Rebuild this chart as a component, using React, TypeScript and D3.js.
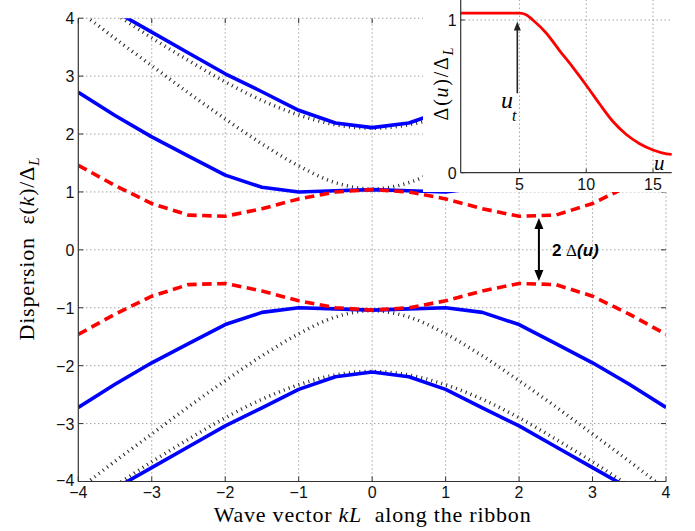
import React from 'react';
import * as d3 from 'd3';

// wave vector samples (kL)
const kValues = [-4, -3.5, -3, -2.5, -2, -1.5, -1, -0.5, 0, 0.5, 1, 1.5, 2, 2.5, 3, 3.5, 4];

// blue bands (solid)
const outerBandUpper = [4.48, 4.12, 3.76, 3.40, 3.04, 2.73, 2.41, 2.19, 2.11, 2.19, 2.41, 2.73, 3.04, 3.40, 3.76, 4.12, 4.48];
const outerBandLower = [-4.48, -4.12, -3.76, -3.40, -3.04, -2.73, -2.41, -2.19, -2.11, -2.19, -2.41, -2.73, -3.04, -3.40, -3.76, -4.12, -4.48];
const innerBandUpper = [2.72, 2.32, 1.95, 1.62, 1.29, 1.08, 1.00, 1.02, 1.04, 1.02, 1.00, 1.08, 1.29, 1.62, 1.95, 2.32, 2.72];
const innerBandLower = [-2.72, -2.32, -1.95, -1.62, -1.29, -1.08, -1.00, -1.02, -1.04, -1.02, -1.00, -1.08, -1.29, -1.62, -1.95, -2.32, -2.72];

// red gapped bands (dashed)
const gapBandUpper = [1.46, 1.11, 0.80, 0.60, 0.58, 0.71, 0.88, 1.00, 1.04, 1.00, 0.88, 0.71, 0.58, 0.60, 0.80, 1.11, 1.46];
const gapBandLower = [-1.46, -1.11, -0.80, -0.60, -0.58, -0.71, -0.88, -1.00, -1.04, -1.00, -0.88, -0.71, -0.58, -0.60, -0.80, -1.11, -1.46];

// black dotted free bands
const freeOuterUpper = [4.52, 4.08, 3.66, 3.27, 2.90, 2.58, 2.33, 2.16, 2.10, 2.16, 2.33, 2.58, 2.90, 3.27, 3.66, 4.08, 4.52];
const freeOuterLower = [-4.52, -4.08, -3.66, -3.27, -2.90, -2.58, -2.33, -2.16, -2.10, -2.16, -2.33, -2.58, -2.90, -3.27, -3.66, -4.08, -4.52];
const freeInnerUpper = [4.14, 3.65, 3.18, 2.71, 2.26, 1.83, 1.45, 1.16, 1.05, 1.16, 1.45, 1.83, 2.26, 2.71, 3.18, 3.65, 4.14];
const freeInnerLower = [-4.14, -3.65, -3.18, -2.71, -2.26, -1.83, -1.45, -1.16, -1.05, -1.16, -1.45, -1.83, -2.26, -2.71, -3.18, -3.65, -4.14];

const xTicks = [-4, -3, -2, -1, 0, 1, 2, 3, 4];
const yTicks = [-4, -3, -2, -1, 0, 1, 2, 3, 4];

// inset: gap vs u
const insetU = [0.6, 1, 2, 3, 4, 5, 5.5, 6, 7, 8, 9, 10, 11, 12, 13, 14, 15, 16, 16.4];
const insetGap = [1.045, 1.045, 1.045, 1.045, 1.045, 1.045, 1.035, 1.0, 0.915, 0.80, 0.69, 0.573, 0.45, 0.335, 0.25, 0.19, 0.149, 0.124, 0.12];
const insetXTicks = [5, 10, 15];
const insetYTicks = [0, 1];

// annotations (data units)
const gapArrow = { k: 2.27, top: 0.55, bottom: -0.54 };
const utArrow = { u: 4.84, from: 0.52, to: 0.99 };

const fmt = (v: number) => (v < 0 ? '\u2212' + Math.abs(v) : String(v));

export default function App() {
  const W = 695, H = 531;
  const x = d3.scaleLinear().domain([-4, 4]).range([78.3, 666]);
  const y = d3.scaleLinear().domain([-4, 4]).range([481.5, 18.2]);

  const ix = d3.scaleLinear().domain([0.6, 16.4]).range([460.7, 671.7]);
  const iy = d3.scaleLinear().domain([0, 1]).range([172.7, 20]);

  const band = (vals: number[]) =>
    d3.line<number>().x((_, i) => x(kValues[i])).y(d => y(d))(vals) as string;
  const smooth = (vals: number[]) =>
    d3.line<number>().x((_, i) => x(kValues[i])).y(d => y(d)).curve(d3.curveCatmullRom)(vals) as string;
  const insetLine = d3.line<number>().x((_, i) => ix(insetU[i])).y(d => iy(d)).curve(d3.curveMonotoneX)(insetGap) as string;

  const [x0, x1] = x.range();
  const [y0, y1] = y.range();
  const sans = '"Liberation Sans", Arial, Helvetica, sans-serif';
  const serif = '"Liberation Serif", "Times New Roman", serif';
  const axisCol = '#333';
  const gridStyle = { stroke: '#777', strokeWidth: 1, strokeDasharray: '1 3' };
  const dotted = { fill: 'none', stroke: '#222', strokeWidth: 3.5, strokeDasharray: '1 4.2' };
  const blue = { fill: 'none', stroke: '#0000ff', strokeWidth: 3.6, strokeLinejoin: 'round' as const };
  const red = { fill: 'none', stroke: '#ff0000', strokeWidth: 3.6, strokeDasharray: '9.5 5.5' };

  const ax = x(gapArrow.k);
  const aTop = y(gapArrow.top), aBot = y(gapArrow.bottom);
  const ux = ix(utArrow.u), uFrom = iy(utArrow.from), uTo = iy(utArrow.to);

  return (
    <svg width={W} height={H} style={{ position: 'absolute', left: 0, top: 0, background: '#fff' }}>
      <defs>
        <clipPath id="plotClip">
          <rect x={x0} y={y1} width={x1 - x0} height={y0 - y1} />
        </clipPath>
      </defs>

      {/* grid */}
      <g>
        {xTicks.slice(1).map(t => (
          <line key={'gx' + t} x1={x(t)} x2={x(t)} y1={y0} y2={y1} {...gridStyle} />
        ))}
        {yTicks.slice(1).map(t => (
          <line key={'gy' + t} x1={x0} x2={x1} y1={y(t)} y2={y(t)} {...gridStyle} />
        ))}
      </g>

      <g clipPath="url(#plotClip)">
        <path d={smooth(freeOuterUpper)} {...dotted} />
        <path d={smooth(freeInnerUpper)} {...dotted} />
        <path d={smooth(freeOuterLower)} {...dotted} />
        <path d={smooth(freeInnerLower)} {...dotted} />

        <path d={band(outerBandUpper)} {...blue} />
        <path d={band(innerBandUpper)} {...blue} />
        <path d={band(outerBandLower)} {...blue} />
        <path d={band(innerBandLower)} {...blue} />

        <path d={band(gapBandUpper)} {...red} />
        <path d={band(gapBandLower)} {...red} />
      </g>

      {/* axes */}
      <line x1={x0} x2={x0} y1={y0} y2={y1} stroke={axisCol} strokeWidth={1.2} />
      <line x1={x0} x2={x1} y1={y0} y2={y0} stroke={axisCol} strokeWidth={1.2} />
      {xTicks.map(t => (
        <g key={'xt' + t}>
          <line x1={x(t)} x2={x(t)} y1={y0} y2={y0 - 5} stroke={axisCol} />
          <line x1={x(t)} x2={x(t)} y1={y1} y2={y1 + 5} stroke={axisCol} />
          <text x={x(t)} y={y0 + 16} textAnchor="middle" fontFamily={sans} fontSize={16} fill="#111">{fmt(t)}</text>
        </g>
      ))}
      {yTicks.map(t => (
        <g key={'yt' + t}>
          <line x1={x0} x2={x0 + 5} y1={y(t)} y2={y(t)} stroke={axisCol} />
          <line x1={x1} x2={x1 - 5} y1={y(t)} y2={y(t)} stroke={axisCol} />
          <text x={x0 - 4} y={y(t) + (t === -4 ? 4 : 6)} textAnchor="end" fontFamily={sans} fontSize={16} fill="#111">{fmt(t)}</text>
        </g>
      ))}

      {/* gap arrow */}
      <line x1={ax} x2={ax} y1={aTop + 8} y2={aBot - 8} stroke="#000" strokeWidth={2} />
      <path d={`M${ax},${aTop} L${ax - 4.5},${aTop + 11} L${ax + 4.5},${aTop + 11} Z`} fill="#000" />
      <path d={`M${ax},${aBot} L${ax - 4.5},${aBot - 11} L${ax + 4.5},${aBot - 11} Z`} fill="#000" />
      <text x={ax + 13} y={(aTop + aBot) / 2 + 6} fontFamily={sans} fontSize={17} fontWeight="bold" fill="#000">
        2 <tspan fontFamily={serif} fontWeight="normal">Δ</tspan><tspan fontStyle="italic">(u)</tspan>
      </text>

      {/* axis labels */}
      <text x={(x0 + x1) / 2} y={522} textAnchor="middle" fontFamily={serif} fontSize={22} textLength={317} lengthAdjust="spacing">
        Wave vector <tspan fontStyle="italic">kL</tspan>{'\u00a0 '}along the ribbon
      </text>
      <text transform="translate(34,249) rotate(-90)" textAnchor="middle" fontFamily={serif} fontSize={22} textLength={183} lengthAdjust="spacing">
        Dispersion{'\u00a0 '}ε(<tspan fontStyle="italic">k</tspan>)/Δ<tspan fontStyle="italic" fontSize={15} dy={5}>L</tspan>
      </text>

      {/* inset */}
      <rect x={423} y={0} width={W - 423} height={192} fill="#fff" />
      {insetXTicks.map(t => (
        <line key={'igx' + t} x1={ix(t)} x2={ix(t)} y1={iy(0)} y2={0} {...gridStyle} />
      ))}
      <line x1={ix(0.6)} x2={ix(16.4)} y1={iy(1)} y2={iy(1)} {...gridStyle} />
      <path d={insetLine} fill="none" stroke="#ff0000" strokeWidth={2.8} />
      <line x1={ix(0.6)} x2={ix(0.6)} y1={iy(0)} y2={0} stroke={axisCol} strokeWidth={1.2} />
      <line x1={ix(0.6)} x2={ix(16.4)} y1={iy(0)} y2={iy(0)} stroke={axisCol} strokeWidth={1.2} />
      {insetXTicks.map(t => (
        <g key={'ixt' + t}>
          <line x1={ix(t)} x2={ix(t)} y1={iy(0)} y2={iy(0) - 4} stroke={axisCol} />
          <text x={ix(t)} y={iy(0) + 17} textAnchor="middle" fontFamily={sans} fontSize={16} fill="#111">{t}</text>
        </g>
      ))}
      {insetYTicks.map(t => (
        <g key={'iyt' + t}>
          <line x1={ix(0.6)} x2={ix(0.6) + 4} y1={iy(t)} y2={iy(t)} stroke={axisCol} />
          <text x={ix(0.6) - 4} y={iy(t) + 6} textAnchor="end" fontFamily={sans} fontSize={16} fill="#111">{t}</text>
        </g>
      ))}
      <line x1={ux} x2={ux} y1={uFrom} y2={uTo + 8} stroke="#222" strokeWidth={1.6} />
      <path d={`M${ux},${uTo} L${ux - 3.5},${uTo + 9} L${ux + 3.5},${uTo + 9} Z`} fill="#222" />
      <text x={501} y={108} fontFamily={serif} fontSize={24} fontStyle="italic">u</text>
      <text x={512} y={121} fontFamily={serif} fontSize={16} fontStyle="italic">t</text>
      <text x={654} y={170} fontFamily={serif} fontSize={21} fontStyle="italic">u</text>
      <text transform="translate(448,84) rotate(-90)" textAnchor="middle" fontFamily={serif} fontSize={20} textLength={73} lengthAdjust="spacing">
        Δ(<tspan fontStyle="italic">u</tspan>)/Δ<tspan fontStyle="italic" fontSize={14} dy={5}>L</tspan>
      </text>
    </svg>
  );
}
